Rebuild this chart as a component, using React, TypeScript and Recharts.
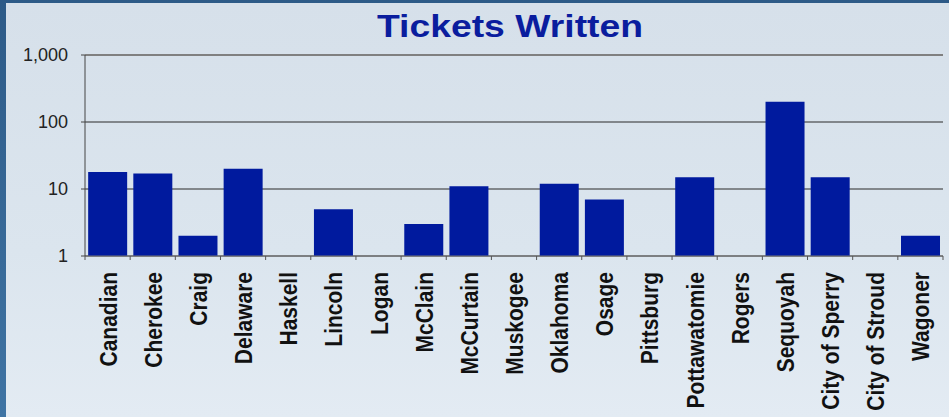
import { Bar, BarChart, CartesianGrid, ReferenceLine, XAxis, YAxis } from "recharts"

const counties = [
  "Canadian",
  "Cherokee",
  "Craig",
  "Delaware",
  "Haskell",
  "Lincoln",
  "Logan",
  "McClain",
  "McCurtain",
  "Muskogee",
  "Oklahoma",
  "Osage",
  "Pittsburg",
  "Pottawatomie",
  "Rogers",
  "Sequoyah",
  "City of Sperry",
  "City of Stroud",
  "Wagoner",
]

// null = nothing written (log axis can't show zero)
const tickets: (number | null)[] = [
  18, 17, 2, 20, null, 5, null, 3, 11, null, 12, 7, null, 15, null, 200, 15, null, 2,
]

const yTicks = [1, 10, 100, 1000]

const data = counties.map((name, i) => ({ name, tickets: tickets[i] }))

const W = 949
const H = 417
const PLOT_LEFT = 85
const PLOT_RIGHT = 943
const BAND = (PLOT_RIGHT - PLOT_LEFT) / counties.length

function CountyTick(props: any) {
  const { x, y, payload, index } = props
  const half = payload?.offset || BAND / 2
  const last = index === counties.length - 1
  return (
    <g>
      <line x1={x - half} y1={y - 4} x2={x - half} y2={y} stroke="#555" />
      {last && <line x1={x + half} y1={y - 4} x2={x + half} y2={y} stroke="#555" />}
      <text
        transform={`translate(${x + 9},${y + 12}) rotate(-90) scale(1,1.17)`}
        textAnchor="end"
        fontFamily="Liberation Sans, Arial, sans-serif"
        fontWeight="bold"
        fontSize={21}
        fill="#111"
      >
        {payload.value}
      </text>
    </g>
  )
}

export default function App() {
  return (
    <div
      style={{
        position: "fixed",
        left: 0,
        top: 0,
        width: W,
        height: H,
        background: "linear-gradient(180deg, #2d5a87 0%, #3f74a4 100%)",
        overflow: "hidden",
      }}
    >
      <div
        style={{
          position: "absolute",
          left: 6,
          top: 3,
          right: 0,
          bottom: 0,
          background: "linear-gradient(180deg, #d6e0ea 0%, #dbe5ee 60%, #e3ebf3 100%)",
        }}
      />
      <BarChart
        width={W}
        height={H}
        data={data}
        margin={{ top: 55, right: W - PLOT_RIGHT, left: 0, bottom: 0 }}
        barCategoryGap="7%"
        style={{ position: "absolute", left: 0, top: 0 }}
      >
        <text
          x={510}
          y={37}
          textAnchor="middle"
          fontFamily="Liberation Sans, Arial, sans-serif"
          fontWeight="bold"
          fontSize={32}
          fill="#0a1d9e"
          textLength={266}
          lengthAdjust="spacingAndGlyphs"
        >
          Tickets Written
        </text>
        <CartesianGrid vertical={false} stroke="#2a2a2a" />
        <XAxis
          dataKey="name"
          interval={0}
          height={H - 256}
          tickLine={false}
          tickSize={4}
          tickMargin={0}
          axisLine={{ stroke: "#777" }}
          tick={<CountyTick />}
        />
        <YAxis
          scale="log"
          domain={[1, 1000]}
          ticks={yTicks}
          allowDataOverflow
          width={PLOT_LEFT}
          tickSize={4}
          tickMargin={13}
          tickLine={{ stroke: "#444" }}
          axisLine={{ stroke: "#444" }}
          tick={{ fill: "#222", fontSize: 18, fontFamily: "Liberation Sans, Arial, sans-serif" }}
          tickFormatter={(v: number) => v.toLocaleString("en-US")}
        />
        <ReferenceLine y={1000} stroke="#808080" strokeWidth={2} />
        <Bar dataKey="tickets" fill="#001a9e" isAnimationActive={false} />
      </BarChart>
    </div>
  )
}
